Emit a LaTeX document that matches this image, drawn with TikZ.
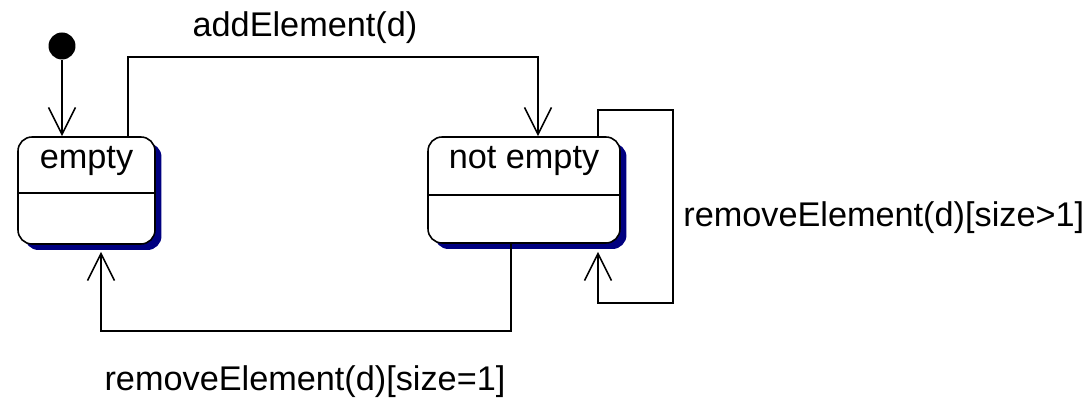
\documentclass[tikz,border=0pt]{standalone}
\usepackage{fontspec}
\setmainfont{Liberation Sans}
\usepackage{tikz}
\usetikzlibrary{arrows.meta, positioning, calc, shadows}
\definecolor{shadownavy}{HTML}{000080}

\begin{document}
\begin{tikzpicture}[
    x=0.02cm, y=-0.02cm,
    every node/.style={font=\fontsize{19.5}{23}\selectfont},
    statebox/.style={rectangle, rounded corners=0.28cm, draw=black, fill=white, line width=0.9pt, drop shadow={shadow xshift=0.13cm, shadow yshift=-0.12cm, fill=shadownavy, opacity=1}},
    initdot/.style={circle, fill=black, minimum size=0.54cm, inner sep=0pt},
    trans/.style={draw=black, line width=0.9pt, -{Straight Barb[length=0.54cm, width=0.54cm, line width=0.9pt]}},
]
\useasboundingbox (0,0) rectangle (1090,398);

\node[initdot] (init) at (62,46) {};
\node[statebox, minimum width=2.74cm, minimum height=2.14cm] (empty) at (86.5,190.5) {};
\node[statebox, minimum width=3.84cm, minimum height=2.12cm] (notempty) at (524,190) {};
\node (emptyname) at ($(empty.north)+(0,25)$) {empty};
\node (notemptyname) at ($(notempty.north)+(0,25)$) {not empty};
\draw[line width=0.9pt] ($(empty.west)+(0,2.5)$) -- ($(empty.east)+(0,2.5)$);
\draw[line width=0.9pt] ($(notempty.west)+(0,5)$) -- ($(notempty.east)+(0,5)$);

\draw[trans] (init) -- (init |- empty.north);
\draw[trans] ($(empty.north)+(41.5,0)$) -- ++(0,-79) -| ($(notempty.north)+(14,0)$);
\draw[trans] ($(notempty.north)+(74,0)$) -- ++(0,-26) -- ++(75,0) |- ($(notempty.south)+(74,59)$) -- ($(notempty.south)+(74,8)$);
\draw[trans] ($(notempty.south)+(-13,0)$) -- ++(0,87) -| ($(empty.south)+(14.5,7)$);

\node (addlbl) at (305,28) {addElement(d)};
\node[anchor=west, inner sep=0pt] (removemany) at (683,218) {removeElement(d)[size>1]};
\node (removeone) at (305,382) {removeElement(d)[size=1]};

\end{tikzpicture}
\end{document}
